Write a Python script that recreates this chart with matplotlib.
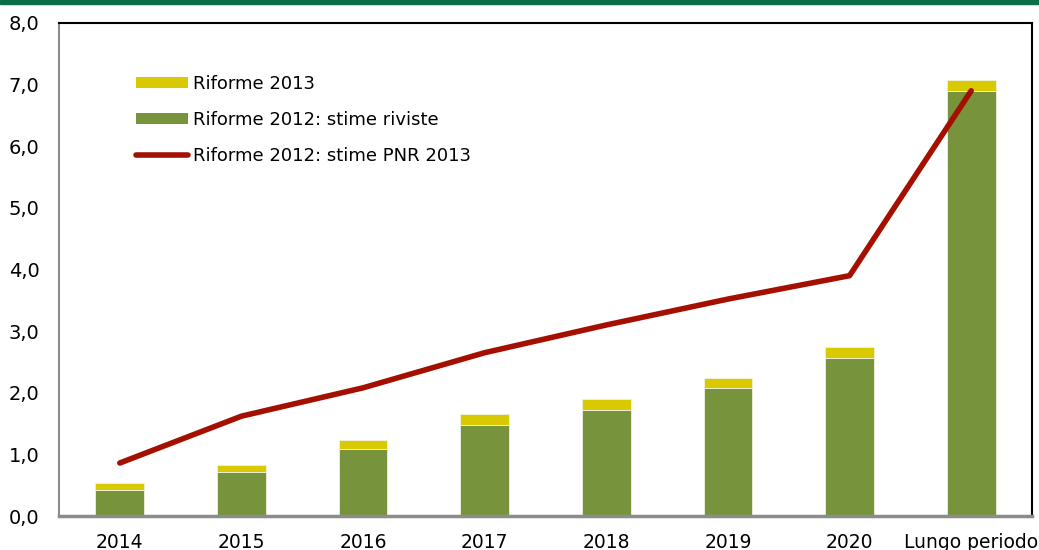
import matplotlib.pyplot as plt
from matplotlib.patches import Patch
from matplotlib.lines import Line2D
import numpy as np

categories = ["2014", "2015", "2016", "2017", "2018", "2019", "2020", "Lungo periodo"]
riforme_2012_riviste = [0.43, 0.71, 1.08, 1.48, 1.72, 2.08, 2.56, 6.90]
riforme_2013 = [0.10, 0.12, 0.16, 0.18, 0.18, 0.16, 0.18, 0.17]
riforme_2012_pnr = [0.86, 1.62, 2.08, 2.65, 3.10, 3.52, 3.90, 6.90]

GREEN = "#77933c"
YELLOW = "#d9c900"
RED = "#a50f00"

plt.rcParams["font.family"] = ["DejaVu Sans"]

fig = plt.figure(figsize=(10.39, 5.5), dpi=100)
ax = fig.add_axes([59 / 1039, 1 - 516 / 550, 973 / 1039, 493 / 550])

x = np.arange(len(categories))
ax.bar(x, riforme_2012_riviste, width=0.4, color=GREEN, edgecolor="#eef2e0", linewidth=0.6, zorder=2)
ax.bar(x, riforme_2013, width=0.4, bottom=riforme_2012_riviste, color=YELLOW,
       edgecolor="#eef2e0", linewidth=0.6, zorder=2)
ax.plot(x, riforme_2012_pnr, color=RED, linewidth=4, solid_capstyle="round", zorder=3)

ax.set_xlim(-0.5, len(categories) - 0.5)
ax.set_ylim(0, 8)
ax.set_yticks(np.arange(0, 9, 1))
ax.set_yticklabels([f"{v:.1f}".replace(".", ",") for v in np.arange(0, 9, 1)], fontsize=14)
ax.set_xticks(x)
ax.set_xticklabels(categories, fontsize=13.5)
ax.tick_params(length=0)
ax.tick_params(axis="x", pad=12)
ax.tick_params(axis="y", pad=14)

ax.spines["left"].set_color("#8c8c8c")
ax.spines["left"].set_linewidth(1.5)
ax.spines["bottom"].set_color("#8c8c8c")
ax.spines["bottom"].set_linewidth(2.5)
ax.spines["top"].set_color("black")
ax.spines["top"].set_linewidth(1.5)
ax.spines["right"].set_color("black")
ax.spines["right"].set_linewidth(1.5)

handles = [
    Patch(facecolor=YELLOW, label="Riforme 2013"),
    Patch(facecolor=GREEN, label="Riforme 2012: stime riviste"),
    Line2D([0], [0], color=RED, linewidth=4, solid_capstyle="round", label="Riforme 2012: stime PNR 2013"),
]
leg = ax.legend(handles=handles, loc="upper left", bbox_to_anchor=(0.062, 0.927), frameon=False,
                fontsize=13, handlelength=2.9, handleheight=0.55, handletextpad=0.28, labelspacing=1.0)

# green band at the top
fig.patches.append(plt.Rectangle((0, 1 - 4 / 550), 1, 4 / 550, transform=fig.transFigure,
                                 color="#0b6e45", zorder=0))

fig.savefig("out.png", dpi=100)
